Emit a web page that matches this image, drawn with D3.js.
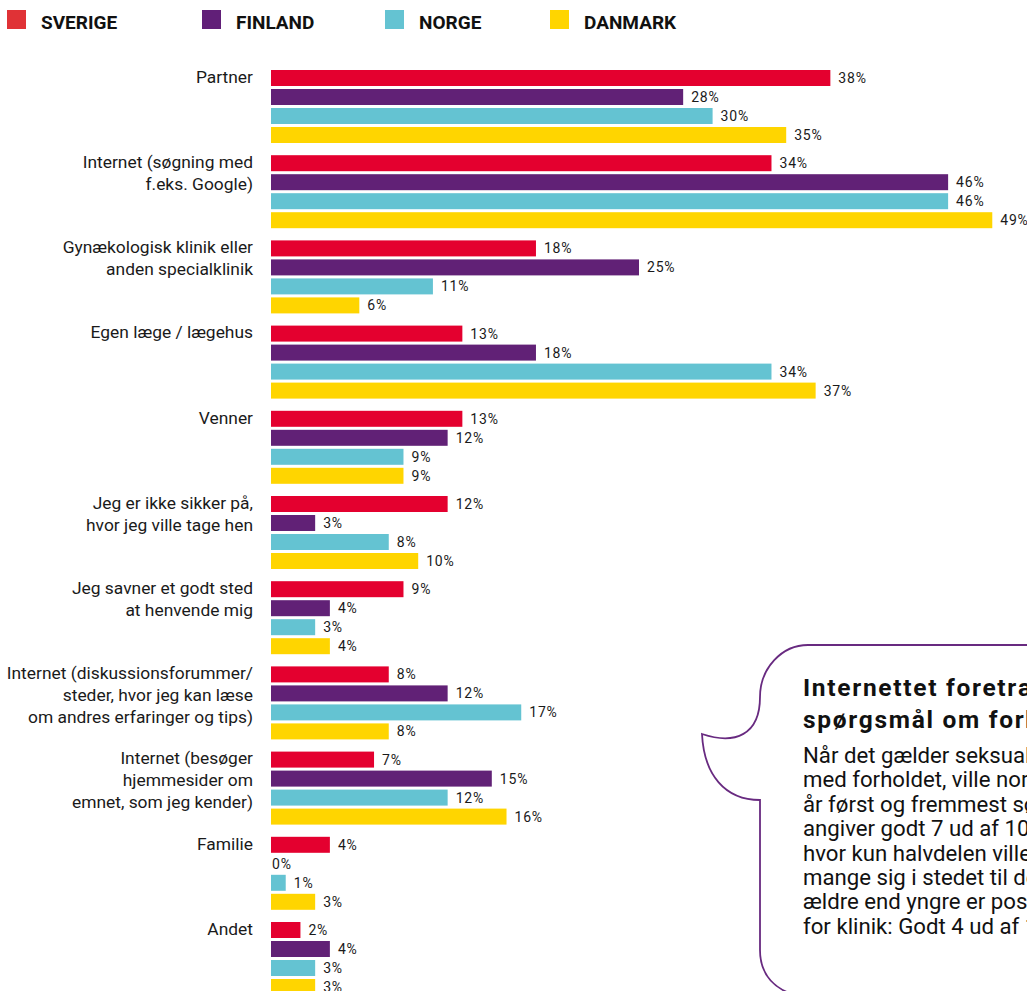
<!DOCTYPE html>
<html>
<head>
<meta charset="utf-8">
<script src="https://cdn.jsdelivr.net/npm/d3@7"></script>
<style>
  body { margin: 0; background: #fff; }
  svg { display: block; font-family: Roboto, "Noto Sans", sans-serif; }
</style>
</head>
<body>
<div id="chart"></div>
<script>
// Data (share in %)
var categories = [
  ["Partner"],
  ["Internet (søgning med", "f.eks. Google)"],
  ["Gynækologisk klinik eller", "anden specialklinik"],
  ["Egen læge / lægehus"],
  ["Venner"],
  ["Jeg er ikke sikker på,", "hvor jeg ville tage hen"],
  ["Jeg savner et godt sted", "at henvende mig"],
  ["Internet (diskussionsforummer/", "steder, hvor jeg kan læse", "om andres erfaringer og tips)"],
  ["Internet (besøger", "hjemmesider om", "emnet, som jeg kender)"],
  ["Familie"],
  ["Andet"]
];
var seriesNames = ["SVERIGE", "FINLAND", "NORGE", "DANMARK"];
var sverige = [38, 34, 18, 13, 13, 12, 9, 8, 7, 4, 2];
var finland = [28, 46, 25, 18, 12, 3, 4, 12, 15, 0, 4];
var norge   = [30, 46, 11, 34, 9, 8, 3, 17, 12, 1, 3];
var danmark = [35, 49, 6, 37, 9, 10, 4, 8, 16, 3, 3];

// the text box runs off the right edge of the picture
var bubbleTitle = ["Internettet foretrækkes til", "spørgsmål om forholdet"];
var bubbleText = [
  "Når det gælder seksualitet og spørgsmål i forbindelse",
  "med forholdet, ville norske og finske unge på 16-29",
  "år først og fremmest søge på internettet. Det",
  "angiver godt 7 ud af 10. I Sverige ser det anderledes ud,",
  "hvor kun halvdelen ville søge på nettet. Her vender",
  "mange sig i stedet til deres partner. Blandt de",
  "ældre end yngre er positionerne mere ligelige, også",
  "for klinik: Godt 4 ud af 10."
];

var svgWidth = 1027;
var svgHeight = 991;

var colors = d3.scaleOrdinal()
  .domain(seriesNames)
  .range(["#e4002f", "#612176", "#64c3d2", "#ffd500"]);

var legendColors = d3.scaleOrdinal()
  .domain(seriesNames)
  .range(["#e03236", "#611f78", "#64c3d2", "#ffd500"]);

// table built from the arrays
var allSeries = [sverige, finland, norge, danmark];
var table = categories.map(function(lines, i) {
  return {
    lines: lines,
    values: seriesNames.map(function(name, j) {
      return { name: name, value: allSeries[j][i] };
    })
  };
});

var svg = d3.select("#chart")
  .append("svg")
  .attr("width", svgWidth)
  .attr("height", svgHeight);

// scales
var xScale = d3.scaleLinear()
  .domain([0, 50])
  .range([271, 271 + 50 * 14.72]);

var yGroup = d3.scaleBand()
  .domain(d3.range(categories.length))
  .range([70, 70 + categories.length * 85.2]);

var yInner = d3.scaleBand()
  .domain(seriesNames)
  .range([0, 73])
  .paddingInner(0.158);

// legend
var legendX = d3.scaleOrdinal()
  .domain(seriesNames)
  .range([7, 202, 385, 550]);

var legend = svg.append("g")
  .selectAll("g")
  .data(seriesNames)
  .enter()
  .append("g")
  .attr("transform", d => `translate(${legendX(d)}, 10)`);

legend.append("rect")
  .attr("width", 19)
  .attr("height", 19)
  .attr("fill", d => legendColors(d));

legend.append("text")
  .attr("x", 34)
  .attr("y", 19)
  .attr("font-size", "19px")
  .attr("font-weight", "bold")
  .attr("fill", "#111")
  .text(d => d);

// groups
var groups = svg.append("g")
  .selectAll("g")
  .data(table)
  .enter()
  .append("g")
  .attr("transform", (d, i) => `translate(0, ${yGroup(i)})`);

// category labels, right aligned against the bars
groups.append("text")
  .attr("text-anchor", "end")
  .attr("font-size", "17.4px")
  .attr("fill", "#1a1a1a")
  .selectAll("tspan")
  .data(d => d.lines)
  .enter()
  .append("tspan")
  .attr("x", 253)
  .attr("y", (d, i) => 12.8 + i * 22)
  .text(d => d);

groups.selectAll("rect")
  .data(d => d.values)
  .enter()
  .append("rect")
  .attr("x", xScale(0))
  .attr("y", d => yInner(d.name))
  .attr("width", d => xScale(d.value) - xScale(0))
  .attr("height", yInner.bandwidth())
  .attr("fill", d => colors(d.name));

groups.selectAll("text.value")
  .data(d => d.values)
  .enter()
  .append("text")
  .attr("class", "value")
  .attr("x", d => d.value === 0 ? xScale(0) + 1 : xScale(d.value) + 8)
  .attr("y", d => yInner(d.name) + yInner.bandwidth() / 2 + 5)
  .attr("font-size", "14px")
  .attr("letter-spacing", "0.8px")
  .attr("fill", "#1a1a1a")
  .text(d => d.value + "%");

// speech bubble in the lower right corner
var bubble = svg.append("g");

bubble.append("path")
  .attr("d", "M1040,645 L808,645 C782,645 760,668 760,697 " +
    "C760,735 735,745 702,734 C704,775 725,800 760,800 " +
    "L760,950 C760,975 775,991 800,996")
  .attr("fill", "#fff")
  .attr("stroke", "#682a80")
  .attr("stroke-width", 1.8);

bubble.append("text")
  .attr("font-size", "24.5px")
  .attr("font-weight", "bold")
  .attr("letter-spacing", "1.7px")
  .attr("fill", "#111")
  .selectAll("tspan")
  .data(bubbleTitle)
  .enter()
  .append("tspan")
  .attr("x", 803)
  .attr("y", (d, i) => 696 + i * 32)
  .text(d => d);

bubble.append("text")
  .attr("font-size", "22.2px")
  .attr("fill", "#111")
  .selectAll("tspan")
  .data(bubbleText)
  .enter()
  .append("tspan")
  .attr("x", 803)
  .attr("y", (d, i) => 763 + i * 24.4)
  .text(d => d);
</script>
</body>
</html>
